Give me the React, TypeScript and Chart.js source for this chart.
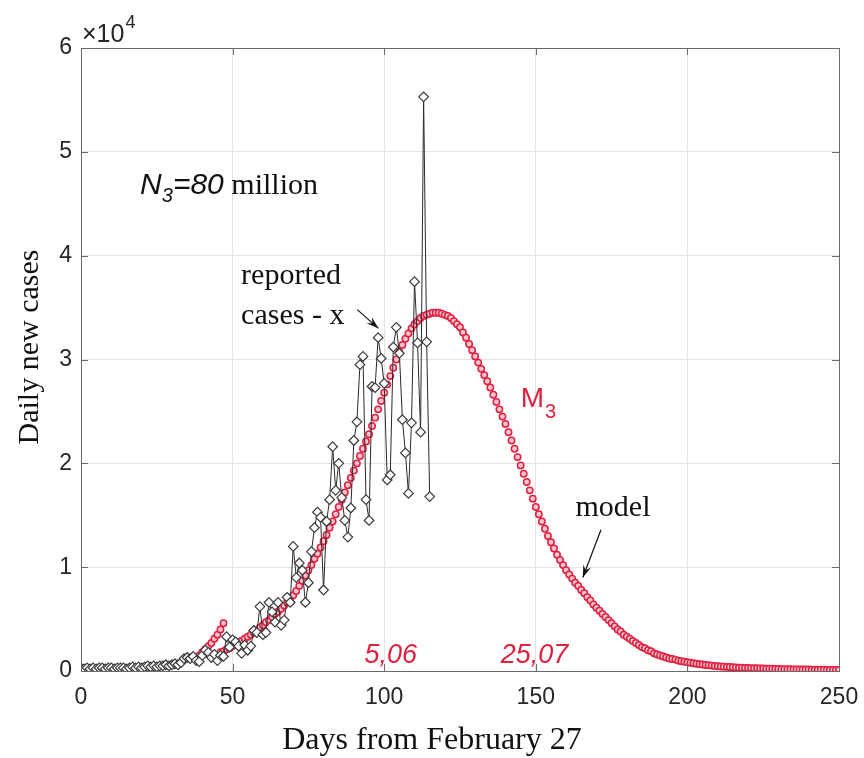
import React, { useEffect, useRef } from "react";
import { Chart, registerables } from "chart.js";

Chart.register(...registerables);

// Reported daily new cases (units of 10^4), day index = position (day 0 .. 116)
const reportedCases: number[] = [
  0.03, 0.02, 0.03, 0.02, 0.03, 0.02, 0.03, 0.03, 0.02, 0.03,
  0.03, 0.02, 0.03, 0.03, 0.03, 0.02, 0.03, 0.04, 0.03, 0.04,
  0.03, 0.04, 0.05, 0.04, 0.05, 0.04, 0.05, 0.05, 0.06, 0.05,
  0.06, 0.07, 0.06, 0.08, 0.12, 0.13, 0.12, 0.14, 0.10, 0.09,
  0.15, 0.20, 0.18, 0.13, 0.16, 0.10, 0.15, 0.14, 0.33, 0.23,
  0.30, 0.28, 0.24, 0.17, 0.25, 0.20, 0.24, 0.39, 0.37, 0.62,
  0.35, 0.37, 0.66, 0.57, 0.47, 0.66, 0.44, 0.49, 0.71, 0.66,
  1.20, 0.90, 1.04, 0.97, 0.66, 0.85, 1.15, 1.38, 1.53, 1.48,
  0.78, 1.44, 1.65, 2.16, 1.74, 2.00, 1.67, 1.45, 1.29, 1.57,
  2.22, 2.40, 2.95, 3.03, 1.65, 1.45, 2.74, 2.73, 3.21, 3.01,
  2.77, 1.84, 1.89, 3.12, 3.31, 3.06, 2.42, 2.10, 1.71, 2.39,
  3.75, 3.16, 2.30, 5.53, 3.17, 1.68,
];

// Early model segment (units of 10^4), starting at day 39
const earlyModelStartDay = 39;
const earlyModel: number[] = [0.15, 0.18, 0.21, 0.24, 0.27, 0.31, 0.35, 0.40, 0.46];

// Model M3 (units of 10^4), starting at day 46
const modelStartDay = 46;
const modelM3: number[] = [
  0.18, 0.19, 0.21, 0.22, 0.24, 0.26, 0.28, 0.29, 0.31, 0.33, // 46-55
  0.35, 0.37, 0.39, 0.42, 0.44, 0.47, 0.49, 0.52, 0.55, 0.57, // 56-65
  0.60, 0.63, 0.66, 0.69, 0.73, 0.77, 0.82, 0.87, 0.92, 0.97, // 66-75
  1.02, 1.08, 1.13, 1.19, 1.25, 1.31, 1.38, 1.44, 1.51, 1.58, // 76-85
  1.65, 1.72, 1.79, 1.86, 1.93, 2.00, 2.07, 2.14, 2.21, 2.28, // 86-95
  2.36, 2.44, 2.52, 2.60, 2.68, 2.76, 2.84, 2.92, 3.00, 3.07, // 96-105
  3.14, 3.20, 3.25, 3.30, 3.34, 3.37, 3.40, 3.42, 3.43, 3.44, // 106-115
  3.45, 3.45, 3.45, 3.44, 3.43, 3.42, 3.40, 3.37, 3.34, 3.31, // 116-125
  3.26, 3.21, 3.15, 3.09, 3.03, 2.97, 2.91, 2.85, 2.79, 2.73, // 126-135
  2.66, 2.59, 2.52, 2.45, 2.38, 2.30, 2.22, 2.14, 2.06, 1.98, // 136-145
  1.90, 1.82, 1.74, 1.66, 1.58, 1.51, 1.44, 1.37, 1.30, 1.24, // 146-155
  1.18, 1.12, 1.07, 1.02, 0.97, 0.93, 0.89, 0.85, 0.82, 0.78, // 156-165
  0.75, 0.71, 0.68, 0.64, 0.61, 0.58, 0.55, 0.52, 0.49, 0.46, // 166-175
  0.43, 0.40, 0.38, 0.35, 0.33, 0.31, 0.29, 0.27, 0.25, 0.23, // 176-185
  0.22, 0.20, 0.19, 0.17, 0.16, 0.15, 0.14, 0.13, 0.12, 0.115, // 186-195
  0.11, 0.10, 0.095, 0.09, 0.085, 0.08, 0.075, 0.07, 0.066, 0.062, // 196-205
  0.058, 0.055, 0.052, 0.049, 0.046, 0.044, 0.042, 0.040, 0.038, 0.036, // 206-215
  0.034, 0.032, 0.031, 0.030, 0.029, 0.028, 0.027, 0.026, 0.025, 0.024, // 216-225
  0.023, 0.022, 0.021, 0.020, 0.019, 0.018, 0.018, 0.017, 0.017, 0.016, // 226-235
  0.016, 0.015, 0.015, 0.014, 0.014, 0.013, 0.013, 0.012, 0.012, 0.012, // 236-245
  0.011, 0.011, 0.011, 0.010, 0.010, // 246-250
];

const xTicks = [0, 50, 100, 150, 200, 250];
const yTicks = [0, 1, 2, 3, 4, 5, 6];

const SANS = "'Liberation Sans', Arial, sans-serif";
const SERIF = "'Liberation Serif', 'Times New Roman', serif";
const RED = "#e0203f";

const decorPlugin = {
  id: "decor",
  afterDraw(chart: any) {
    const { ctx, chartArea: a, scales } = chart;
    const xs = scales.x;
    const ys = scales.y;
    const px = (v: number) => xs.getPixelForValue(v);
    const py = (v: number) => ys.getPixelForValue(v);
    ctx.save();

    // axes box
    ctx.strokeStyle = "#6a6a6a";
    ctx.lineWidth = 1;
    ctx.strokeRect(Math.round(a.left) + 0.5, Math.round(a.top) + 0.5, Math.round(a.right - a.left), Math.round(a.bottom - a.top));

    // inward ticks
    ctx.beginPath();
    const tl = 7;
    xTicks.forEach((t) => {
      const x = Math.round(px(t)) + 0.5;
      ctx.moveTo(x, a.bottom);
      ctx.lineTo(x, a.bottom - tl);
      ctx.moveTo(x, a.top);
      ctx.lineTo(x, a.top + tl);
    });
    yTicks.forEach((t) => {
      const y = Math.round(py(t)) + 0.5;
      ctx.moveTo(a.left, y);
      ctx.lineTo(a.left + tl, y);
      ctx.moveTo(a.right, y);
      ctx.lineTo(a.right - tl, y);
    });
    ctx.stroke();

    // exponent label
    ctx.fillStyle = "#262626";
    ctx.textBaseline = "alphabetic";
    ctx.textAlign = "left";
    ctx.font = `25px ${SANS}`;
    ctx.fillText("\u00d710", a.left + 1, a.top - 6);
    const w10 = ctx.measureText("\u00d710").width;
    ctx.font = `18px ${SANS}`;
    ctx.fillText("4", a.left + 1 + w10 + 1, a.top - 20);

    // axis titles
    ctx.fillStyle = "#111";
    ctx.font = `32px ${SERIF}`;
    ctx.textAlign = "center";
    ctx.fillText("Days from February 27", 432, 749);
    ctx.font = `30px ${SERIF}`;
    ctx.save();
    ctx.translate(38, 347);
    ctx.rotate(-Math.PI / 2);
    ctx.fillText("Daily new cases", 0, 0);
    ctx.restore();

    // N3 = 80 million
    ctx.textAlign = "left";
    let tx = px(19.5);
    const tyN = py(4.59);
    ctx.fillStyle = "#111";
    ctx.font = `italic 30px ${SANS}`;
    ctx.fillText("N", tx, tyN);
    tx += ctx.measureText("N").width;
    ctx.font = `italic 20px ${SANS}`;
    ctx.fillText("3", tx, tyN + 8);
    tx += ctx.measureText("3").width;
    ctx.font = `italic 30px ${SANS}`;
    ctx.fillText("=80", tx, tyN);
    tx += ctx.measureText("=80").width;
    ctx.font = `30px ${SERIF}`;
    ctx.fillText(" million", tx, tyN);

    // reported cases label
    ctx.font = `30px ${SERIF}`;
    ctx.fillText("reported", px(52.8), py(3.73));
    ctx.fillText("cases - x", px(52.8), py(3.34));

    // model label
    ctx.fillText("model", px(163.1), py(1.49));

    // arrows
    const arrow = (x1: number, y1: number, x2: number, y2: number) => {
      ctx.strokeStyle = "#111";
      ctx.fillStyle = "#111";
      ctx.lineWidth = 1.2;
      ctx.beginPath();
      ctx.moveTo(x1, y1);
      ctx.lineTo(x2, y2);
      ctx.stroke();
      const ang = Math.atan2(y2 - y1, x2 - x1);
      const L = 13;
      const W = 0.32;
      ctx.beginPath();
      ctx.moveTo(x2, y2);
      ctx.lineTo(x2 - L * Math.cos(ang - W), y2 - L * Math.sin(ang - W));
      ctx.lineTo(x2 - L * 0.6 * Math.cos(ang), y2 - L * 0.6 * Math.sin(ang));
      ctx.lineTo(x2 - L * Math.cos(ang + W), y2 - L * Math.sin(ang + W));
      ctx.closePath();
      ctx.fill();
    };
    arrow(px(91.1), py(3.48), px(98.1), py(3.3));
    arrow(px(171.5), py(1.36), px(165.5), py(0.9));

    // M3 label
    ctx.fillStyle = RED;
    ctx.font = `28px ${SANS}`;
    ctx.fillText("M", px(145), py(2.54));
    const wM = ctx.measureText("M").width;
    ctx.font = `20px ${SANS}`;
    ctx.fillText("3", px(145) + wM + 1, py(2.54) + 11);

    // dates
    ctx.font = `italic 27px ${SANS}`;
    ctx.fillText("5,06", px(93.5), py(0.077));
    ctx.fillText("25,07", px(138.4), py(0.077));

    ctx.restore();
  },
};

export default function App() {
  const canvasRef = useRef<HTMLCanvasElement | null>(null);

  useEffect(() => {
    if (!canvasRef.current) return;
    const reported = reportedCases.map((v, i) => ({ x: i, y: v }));
    const early = earlyModel.map((v, i) => ({ x: earlyModelStartDay + i, y: v }));
    const model = modelM3.map((v, i) => ({ x: modelStartDay + i, y: v }));

    const chart = new Chart(canvasRef.current, {
      type: "line",
      data: {
        datasets: [
          {
            label: "reported cases - x",
            data: reported,
            borderColor: "#2a2a2a",
            borderWidth: 1,
            pointStyle: "rectRot",
            pointRadius: 4.8,
            pointBorderWidth: 1.2,
            pointBorderColor: "#3a3a3a",
            pointBackgroundColor: "#ffffff",
            tension: 0,
          },
          {
            label: "model early",
            data: early,
            showLine: false,
            pointStyle: "circle",
            pointRadius: 3.2,
            pointBorderWidth: 1.5,
            pointBorderColor: RED,
            pointBackgroundColor: "#f7c3cf",
          },
          {
            label: "model M3",
            data: model,
            showLine: false,
            pointStyle: "circle",
            pointRadius: 3.2,
            pointBorderWidth: 1.5,
            pointBorderColor: RED,
            pointBackgroundColor: "#f7c3cf",
          },
        ],
      },
      options: {
        animation: false,
        responsive: true,
        maintainAspectRatio: false,
        layout: { padding: { top: 48, right: 25, left: 0, bottom: 0 } },
        plugins: {
          legend: { display: false },
          tooltip: { enabled: false },
          title: { display: false },
        },
        scales: {
          x: {
            type: "linear",
            min: 0,
            max: 250,
            afterBuildTicks: (s: any) => {
              s.ticks = xTicks.map((v) => ({ value: v }));
            },
            afterFit: (s: any) => {
              s.height = 87;
              s.paddingLeft = 0;
              s.paddingRight = 0;
            },
            ticks: {
              font: { family: SANS, size: 23 },
              color: "#262626",
              padding: 13,
              maxRotation: 0,
            },
            grid: { color: "#e3e3e3", drawTicks: false, lineWidth: 1 },
            border: { display: false },
          },
          y: {
            type: "linear",
            min: 0,
            max: 6,
            afterBuildTicks: (s: any) => {
              s.ticks = yTicks.map((v) => ({ value: v }));
            },
            afterFit: (s: any) => {
              s.width = 81;
              s.paddingTop = 0;
              s.paddingBottom = 0;
            },
            ticks: {
              font: { family: SANS, size: 23 },
              color: "#262626",
              padding: 9,
              callback: (v: any) => String(v),
            },
            grid: { color: "#e3e3e3", drawTicks: false, lineWidth: 1 },
            border: { display: false },
          },
        },
      },
      plugins: [decorPlugin],
    });
    return () => chart.destroy();
  }, []);

  return (
    <div style={{ position: "fixed", left: 0, top: 0, width: 864, height: 758, background: "#fff" }}>
      <canvas ref={canvasRef} />
    </div>
  );
}
